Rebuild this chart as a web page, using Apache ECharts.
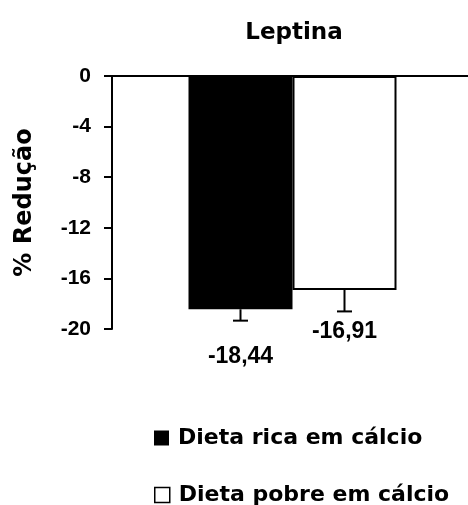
<!DOCTYPE html>
<html>
<head>
<meta charset="utf-8">
<script src="https://cdn.jsdelivr.net/npm/echarts@6/dist/echarts.min.js"></script>
<style>
  html, body { margin: 0; padding: 0; background: #fff; }
  #chart { width: 468px; height: 505px; }
</style>
</head>
<body>
<div id="chart"></div>
<script>
// Chart content
const chartTitle = 'Leptina';
const categories = ['Leptina'];
const seriesNames = ['Dieta rica em cálcio', 'Dieta pobre em cálcio'];
const reduction = [-18.44, -16.91];      // % redução
const errorDown = [0.9, 1.7];            // desvio (só para baixo)
const yMin = -20, yMax = 0, yStep = 4;

// Styling
const WORD_FONT = '"DejaVu Sans", sans-serif';
const NUM_FONT = '"Liberation Sans", Arial, sans-serif';
const BAR_W = 104;
const CAP_W = 15;
const LABEL_DIST = [36, 30];
const LEGEND_TOP = [427, 484];
const LEGEND_STYLE = [
  { color: '#000' },
  { color: '#fff', borderColor: '#000', borderWidth: 1.5 }
];

const fmt = v => v.toFixed(2).replace('.', ',');

const chart = echarts.init(document.getElementById('chart'), null, { renderer: 'canvas' });

const barSeries = seriesNames.map((name, i) => ({
  name,
  type: 'bar',
  data: [reduction[i]],
  barWidth: BAR_W,
  barGap: '0%',
  itemStyle: i === 0
    ? { color: '#000' }
    : { color: '#fff', borderColor: '#000', borderWidth: 2 },
  label: {
    show: true,
    position: 'bottom',
    distance: LABEL_DIST[i],
    formatter: p => fmt(p.value),
    fontFamily: NUM_FONT,
    fontWeight: 'bold',
    fontSize: 23,
    color: '#000'
  }
}));

// One-sided (downward) error bars at the centre of each bar
const errorSeries = {
  name: 'erro',
  type: 'custom',
  z: 5,
  data: reduction.map((v, i) => [0, v, errorDown[i]]),
  encode: { x: 0, y: 1 },
  renderItem(params, api) {
    const i = params.dataIndex;
    const v = api.value(1);
    const e = api.value(2);
    const side = i === 0 ? -1 : 1;
    const start = api.coord([0, v]);
    const end = api.coord([0, v - e]);
    const x = start[0] + side * BAR_W / 2;
    const style = { stroke: '#000', lineWidth: 2 };
    return {
      type: 'group',
      children: [
        { type: 'line', shape: { x1: x, y1: start[1], x2: x, y2: end[1] }, style },
        { type: 'line', shape: { x1: x - CAP_W / 2, y1: end[1], x2: x + CAP_W / 2, y2: end[1] }, style }
      ]
    };
  }
};

// One legend block per series, stacked vertically
const legends = seriesNames.map((name, i) => ({
  orient: 'vertical',
  left: 154,
  top: LEGEND_TOP[i],
  padding: 0,
  itemWidth: 15,
  itemHeight: 15,
  icon: 'rect',
  selectedMode: false,
  textStyle: {
    fontFamily: WORD_FONT, fontWeight: 'bold', fontSize: 22, color: '#000',
    lineHeight: 22, padding: [0, 0, 0, 4]
  },
  data: [{ name, itemStyle: LEGEND_STYLE[i] }]
}));

chart.setOption({
  animation: false,
  backgroundColor: '#fff',
  title: {
    text: chartTitle,
    left: 294,
    top: 22,
    padding: 0,
    textAlign: 'center',
    textStyle: { fontFamily: WORD_FONT, fontWeight: 'bold', fontSize: 23, color: '#000' }
  },
  legend: legends,
  grid: { left: 112, right: -5, top: 76, bottom: 176, outerBoundsMode: 'none' },
  xAxis: {
    type: 'category',
    data: categories,
    axisLine: { show: true, onZero: true, lineStyle: { color: '#000', width: 2 } },
    axisTick: { show: false },
    axisLabel: { show: false },
    splitLine: { show: false }
  },
  yAxis: {
    type: 'value',
    min: yMin,
    max: yMax,
    interval: yStep,
    name: '% Redução',
    nameLocation: 'middle',
    nameRotate: 90,
    nameGap: 75,
    nameTextStyle: { fontFamily: WORD_FONT, fontWeight: 'bold', fontSize: 24, color: '#000' },
    axisLine: { show: true, lineStyle: { color: '#000', width: 2 } },
    axisTick: { show: true, length: 8, lineStyle: { color: '#000', width: 2 } },
    axisLabel: {
      margin: 21,
      fontFamily: NUM_FONT, fontWeight: 'bold', fontSize: 21, color: '#000'
    },
    splitLine: { show: false }
  },
  series: [...barSeries, errorSeries]
});
</script>
</body>
</html>
